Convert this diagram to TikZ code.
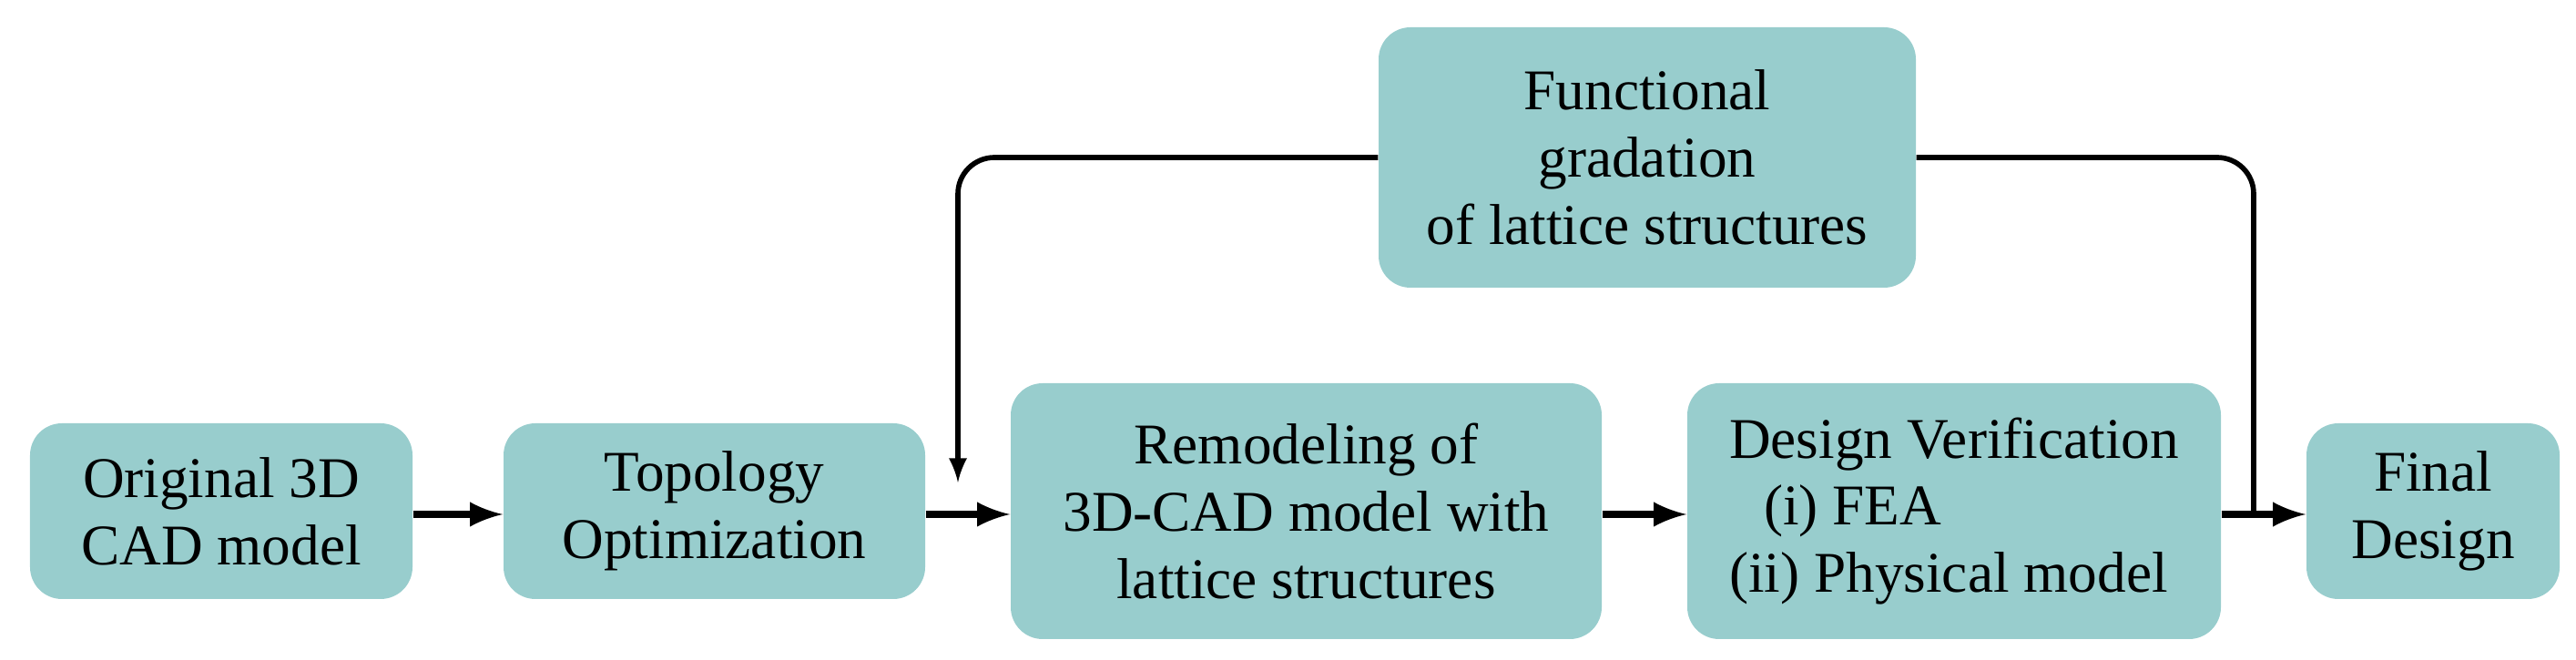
\documentclass[tikz,border=0pt]{standalone}
\usepackage{fontspec}
\setmainfont{Liberation Serif}
\usetikzlibrary{arrows, calc, positioning}
\definecolor{boxfill}{RGB}{152,205,205}
\begin{document}
\begin{tikzpicture}[>=latex, font=\fontsize{18}{21}\selectfont]
\useasboundingbox (0,0) rectangle (28.29,7.25);
\tikzset{stagebox/.style={fill=boxfill, rounded corners=0.35cm, align=center, inner sep=0pt}}

\node[stagebox, minimum width=4.2cm, minimum height=1.93cm] (orig) at (2.43,1.635) {Original 3D\\CAD model};
\node[stagebox, minimum width=4.63cm, minimum height=1.93cm] (topo) at (7.845,1.635) {Topology\\Optimization};
\node[stagebox, minimum width=6.49cm, minimum height=2.81cm] (remod) at (14.345,1.635) {Remodeling of\\3D-CAD model with\\lattice structures};
\node[stagebox, minimum width=5.86cm, minimum height=2.81cm, align=left] (verif) at (21.46,1.635) {Design Verification\\\hspace{0.6em}(i) FEA\\(ii) Physical model};
\node[stagebox, minimum width=2.78cm, minimum height=1.93cm] (final) at (26.72,1.635) {Final\\Design};
\node[stagebox, minimum width=5.9cm, minimum height=2.86cm] (grad) at (18.09,5.52) {Functional\\gradation\\of lattice structures};

\coordinate (loopin) at (10.52,1.95);
\coordinate (loopout) at (24.75,1.60);

\draw[->, line width=2.5pt] ([yshift=-0.035cm] orig.east) -- ([yshift=-0.035cm] topo.west);
\draw[->, line width=2.5pt] ([yshift=-0.035cm] topo.east) -- ([yshift=-0.035cm] remod.west);
\draw[->, line width=2.5pt] ([yshift=-0.035cm] remod.east) -- ([yshift=-0.035cm] verif.west);
\draw[->, line width=2.5pt] ([yshift=-0.035cm] verif.east) -- ([yshift=-0.035cm] final.west);

\draw[->, line width=1.6pt, rounded corners=0.4cm] (grad.west) -| (loopin);
\draw[-, line width=1.6pt, rounded corners=0.4cm] (grad.east) -| (loopout);

\end{tikzpicture}
\end{document}
